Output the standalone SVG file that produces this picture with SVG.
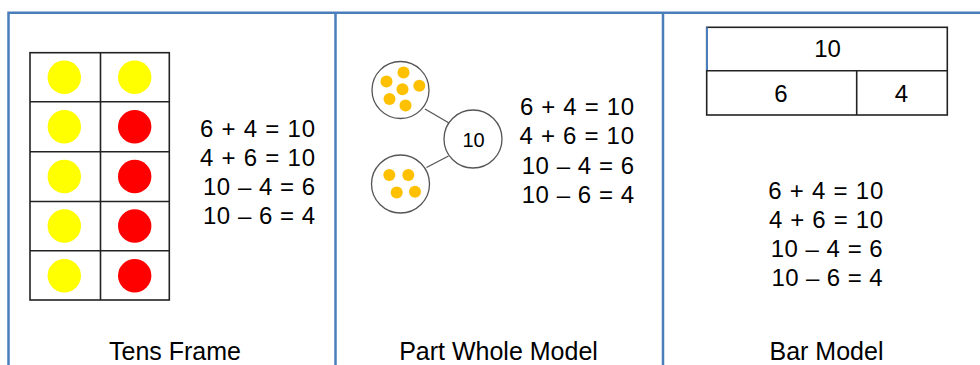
<svg xmlns="http://www.w3.org/2000/svg" width="980" height="365" viewBox="0 0 980 365">
<style>
.frame{stroke:#4A7EBB;stroke-width:2.5;fill:none}
.grid{stroke:#222;stroke-width:1.6;fill:none}
.eq{font-family:"Liberation Sans",Arial,sans-serif;font-size:24px;fill:#000}
.lbl{font-family:"Liberation Sans",Arial,sans-serif;font-size:25px;fill:#000;text-anchor:middle}
.yel{fill:#FFFF00}
.red{fill:#FF0000}
.dot{fill:#FFC000}
.pw{fill:#fff;stroke:#555;stroke-width:1.3}
.conn{stroke:#555;stroke-width:1.3}
</style>
<rect width="980" height="365" fill="#fff"/>
<g id="panels">
<path class="frame" d="M8.5 365V12.7H980M335.5 12.7V365M663 12.7V365"/>
</g>
<g id="tens-frame">
<rect class="grid" x="30" y="52.7" width="139.3" height="247.3"/>
<path class="grid" d="M100.5 52.7V300M30 101.7H169.3M30 151.7H169.3M30 201.5H169.3M30 250.7H169.3"/>
<circle class="yel" cx="64.3" cy="77.3" r="16.7"/>
<circle class="yel" cx="134.7" cy="77.3" r="16.7"/>
<circle class="yel" cx="64.3" cy="126.7" r="16.7"/>
<circle class="red" cx="134.7" cy="126.7" r="16.7"/>
<circle class="yel" cx="64.3" cy="176.5" r="16.7"/>
<circle class="red" cx="134.7" cy="176.5" r="16.7"/>
<circle class="yel" cx="64.3" cy="226" r="16.7"/>
<circle class="red" cx="134.7" cy="226" r="16.7"/>
<circle class="yel" cx="64.3" cy="275.7" r="16.7"/>
<circle class="red" cx="134.7" cy="275.7" r="16.7"/>
</g>
<g id="tens-eq">
<text class="eq" x="200" y="137" textLength="115" lengthAdjust="spacing">6 + 4 = 10</text>
<text class="eq" x="200" y="165.5" textLength="115" lengthAdjust="spacing">4 + 6 = 10</text>
<text class="eq" x="203" y="195" textLength="112" lengthAdjust="spacing">10 – 4 = 6</text>
<text class="eq" x="203" y="223.5" textLength="112" lengthAdjust="spacing">10 – 6 = 4</text>
</g>
<text class="lbl" x="175" y="359.5">Tens Frame</text>
<g id="connectors">
<line class="conn" x1="425" y1="109" x2="449" y2="123"/>
<line class="conn" x1="426.5" y1="167.5" x2="448.5" y2="156"/>
</g>
<g id="part-top">
<circle class="pw" cx="400.5" cy="90" r="28.5"/>
<circle class="dot" cx="403.5" cy="72.5" r="6"/>
<circle class="dot" cx="386.5" cy="81.5" r="6"/>
<circle class="dot" cx="419.3" cy="85.7" r="6"/>
<circle class="dot" cx="402.5" cy="89.3" r="6"/>
<circle class="dot" cx="389.5" cy="99" r="6"/>
<circle class="dot" cx="405.5" cy="105.5" r="6"/>
</g>
<g id="part-bottom">
<circle class="pw" cx="400.5" cy="184" r="29"/>
<circle class="dot" cx="389.3" cy="175" r="6"/>
<circle class="dot" cx="408.3" cy="175" r="6"/>
<circle class="dot" cx="396.7" cy="192.5" r="6"/>
<circle class="dot" cx="415" cy="191.7" r="6"/>
</g>
<g id="whole">
<circle class="pw" cx="473" cy="139" r="29"/>
<text class="eq" x="473.5" y="146.5" text-anchor="middle" style="font-size:20px">10</text>
</g>
<g id="part-whole-eq">
<text class="eq" x="520" y="115" textLength="114" lengthAdjust="spacing">6 + 4 = 10</text>
<text class="eq" x="519.5" y="144" textLength="114.5" lengthAdjust="spacing">4 + 6 = 10</text>
<text class="eq" x="521.7" y="174" textLength="112.3" lengthAdjust="spacing">10 – 4 = 6</text>
<text class="eq" x="521.7" y="203" textLength="112.3" lengthAdjust="spacing">10 – 6 = 4</text>
</g>
<text class="lbl" x="498.5" y="359.5">Part Whole Model</text>
<g id="bar-model">
<rect class="grid" x="706.7" y="27.3" width="240.6" height="87.7"/>
<path class="grid" d="M706.7 70.7H947.3M856.7 70.7V115"/>
<line x1="707" y1="27.3" x2="707" y2="70" stroke="#4A7EBB" stroke-width="2"/>
<text class="eq" x="827.5" y="56.7" text-anchor="middle">10</text>
<text class="eq" x="781" y="101.5" text-anchor="middle">6</text>
<text class="eq" x="901.5" y="101.5" text-anchor="middle">4</text>
</g>
<g id="bar-eq">
<text class="eq" x="768.3" y="199.3" textLength="115" lengthAdjust="spacing">6 + 4 = 10</text>
<text class="eq" x="769" y="228" textLength="114" lengthAdjust="spacing">4 + 6 = 10</text>
<text class="eq" x="770.7" y="257" textLength="112" lengthAdjust="spacing">10 – 4 = 6</text>
<text class="eq" x="771.5" y="286" textLength="111" lengthAdjust="spacing">10 – 6 = 4</text>
</g>
<text class="lbl" x="826.5" y="359.5">Bar Model</text>
</svg>
